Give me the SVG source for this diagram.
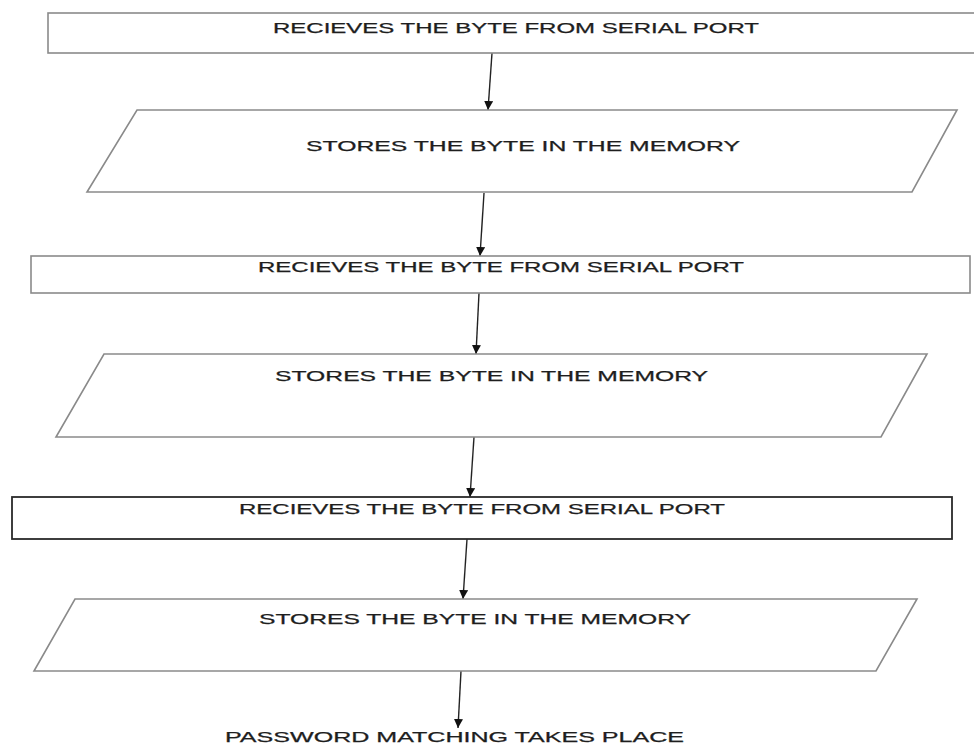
<svg xmlns="http://www.w3.org/2000/svg" width="974" height="745" viewBox="0 0 974 745">
  <defs>
    <marker id="arrowhead" viewBox="0 0 10 10" refX="10" refY="5" markerWidth="9" markerHeight="9" markerUnits="userSpaceOnUse" orient="auto">
      <path d="M0,0 L10,5 L0,10 Z" fill="#111"/>
    </marker>
    <style>
      .shape { fill: #fff; stroke: #8a8a8a; stroke-width: 1.6; }
      .shape.dark { stroke: #2a2a2a; stroke-width: 1.8; }
      .label { font-family: "Liberation Sans", "DejaVu Sans", sans-serif; font-size: 14.5px; fill: #1e1e1e; stroke: #1e1e1e; stroke-width: 0.25; }
      .edge { stroke: #222; stroke-width: 1.4; fill: none; marker-end: url(#arrowhead); }
    </style>
  </defs>
  <rect width="974" height="745" fill="#fff"/>

  <g id="connectors">
    <line class="edge" x1="492" y1="53" x2="488" y2="110"/>
    <line class="edge" x1="484" y1="193" x2="480" y2="256"/>
    <line class="edge" x1="479" y1="293" x2="476" y2="354"/>
    <line class="edge" x1="474" y1="437" x2="470" y2="497"/>
    <line class="edge" x1="467" y1="539" x2="463" y2="599"/>
    <line class="edge" x1="461" y1="671" x2="458" y2="728"/>
  </g>

  <g id="receive-1">
    <rect class="shape" x="48" y="13" width="940" height="40"/>
    <text class="label" x="273" y="33" textLength="486" lengthAdjust="spacingAndGlyphs">RECIEVES THE BYTE FROM SERIAL PORT</text>
  </g>

  <g id="store-1">
    <polygon class="shape" points="137,110 957,110 912,192 87,192"/>
    <text class="label" x="306" y="151" textLength="434" lengthAdjust="spacingAndGlyphs">STORES THE BYTE IN THE MEMORY</text>
  </g>

  <g id="receive-2">
    <rect class="shape" x="31" y="256" width="939" height="37"/>
    <text class="label" x="258" y="272" textLength="486" lengthAdjust="spacingAndGlyphs">RECIEVES THE BYTE FROM SERIAL PORT</text>
  </g>

  <g id="store-2">
    <polygon class="shape" points="104,354 927,354 881,437 56,437"/>
    <text class="label" x="275" y="381" textLength="433" lengthAdjust="spacingAndGlyphs">STORES THE BYTE IN THE MEMORY</text>
  </g>

  <g id="receive-3">
    <rect class="shape dark" x="12" y="497" width="940" height="42"/>
    <text class="label" x="239" y="514" textLength="486" lengthAdjust="spacingAndGlyphs">RECIEVES THE BYTE FROM SERIAL PORT</text>
  </g>

  <g id="store-3">
    <polygon class="shape" points="75,599 917,599 876,671 34,671"/>
    <text class="label" x="259" y="624" textLength="432" lengthAdjust="spacingAndGlyphs">STORES THE BYTE IN THE MEMORY</text>
  </g>

  <g id="password-match">
    <text class="label" x="225" y="742" textLength="459" lengthAdjust="spacingAndGlyphs">PASSWORD MATCHING TAKES PLACE</text>
  </g>
</svg>
